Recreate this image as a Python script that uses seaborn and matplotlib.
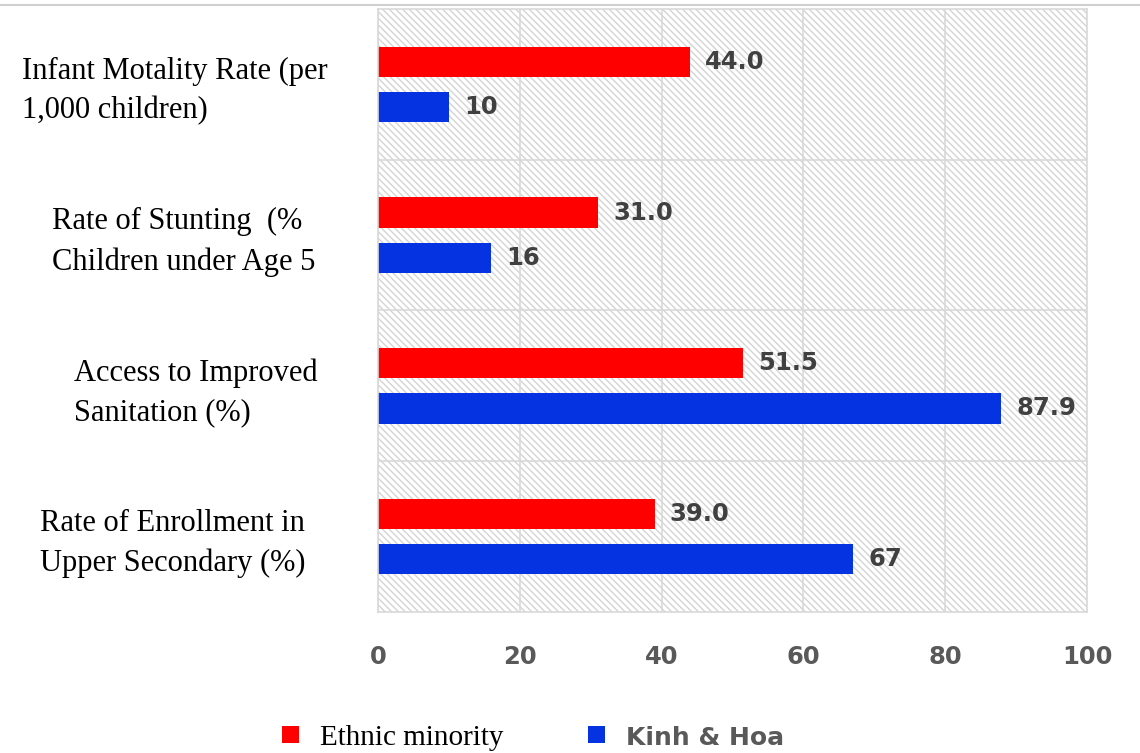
import pandas as pd
import matplotlib
matplotlib.use("Agg")
import matplotlib.pyplot as plt
import matplotlib.transforms as mtransforms
from matplotlib.patches import Rectangle, Patch
from matplotlib.lines import Line2D
import seaborn as sns

# data
categories = [
    "Infant Motality Rate (per\n1,000 children)",
    "Rate of Stunting  (%\nChildren under Age 5",
    "Access to Improved\nSanitation (%)",
    "Rate of Enrollment in\nUpper Secondary (%)",
]
groups = ["Ethnic minority", "Kinh & Hoa"]
ethnic_minority = [44.0, 31.0, 51.5, 39.0]
kinh_hoa = [10, 16, 87.9, 67]
x_ticks = [0, 20, 40, 60, 80, 100]

df = pd.DataFrame({
    "category": categories * 2,
    "group": [groups[0]] * 4 + [groups[1]] * 4,
    "value": ethnic_minority + kinh_hoa,
})

sns.set_theme(style="white")
serif = ["Liberation Serif", "DejaVu Serif"]
sans = ["DejaVu Sans"]
plt.rcParams["font.family"] = serif

fig = plt.figure(figsize=[11.4, 7.53], dpi=100)
ax = fig.add_axes([0.3316, 0.1873, 0.6219, 0.8007])

palette = {"Ethnic minority": "#ff0000", "Kinh & Hoa": "#0533e2"}
sns.barplot(data=df, y="category", x="value", hue="group", orient="h",
            palette=palette, width=0.6, gap=0.333, saturation=1,
            edgecolor="none", legend=False, ax=ax)

# hatched background
ax.add_patch(Rectangle((0, 0), 1, 1, transform=ax.transAxes, facecolor="white",
                       edgecolor="#d4d4d4", hatch="\\\\\\\\\\", lw=0, zorder=0.1))

ax.set_xlim(0, 100)
ax.set_ylim(3.5, -0.5)
ax.set_xticks(x_ticks)
ax.set_yticks([0.5, 1.5, 2.5])
ax.set_yticklabels([])
ax.set_axisbelow(True)
ax.grid(True, axis="both", color="#d9d9d9", lw=1.2)
for s in ax.spines.values():
    s.set_color("#d9d9d9")
    s.set_linewidth(1.2)
ax.tick_params(length=0, pad=24)
ax.set_xlabel("")
ax.set_ylabel("")
for t in ax.get_xticklabels():
    t.set_fontfamily(sans)
    t.set_fontweight("bold")
    t.set_fontsize(17.5)
    t.set_color("#595959")

# value labels
fmts = ["{:.1f}", "{:g}"]
for cont, f in zip(ax.containers, fmts):
    ax.bar_label(cont, fmt=f, padding=11, fontsize=17.5, fontweight="bold",
                 color="#404040", family=sans)

# category labels, left aligned blocks
trans = mtransforms.blended_transform_factory(fig.transFigure, ax.transData)
label_x = [0.0193, 0.0456, 0.0649, 0.0351]
for i, (cat, lx) in enumerate(zip(categories, label_x)):
    fig.text(lx, i + 0.045, cat, transform=trans, ha="left", va="center",
             fontsize=22, family=serif, color="black", linespacing=1.48)

# top rule
fig.add_artist(Line2D([0, 1], [0.993, 0.993], transform=fig.transFigure,
                      color="#d0d0d0", lw=1.5))

# legend
handles = [Patch(facecolor=palette[g], edgecolor="none") for g in groups]
leg = fig.legend(handles, groups, loc="center", bbox_to_anchor=(0.468, 0.02),
                 ncol=2, frameon=False, handlelength=0.55, handleheight=0.55,
                 columnspacing=2.9, handletextpad=0.75, fontsize=21)
texts = leg.get_texts()
texts[0].set_fontfamily(serif)
texts[0].set_color("black")
texts[1].set_fontfamily(sans)
texts[1].set_fontweight("bold")
texts[1].set_fontsize(18)
texts[1].set_color("#595959")

fig.savefig("out.png", dpi=100)
